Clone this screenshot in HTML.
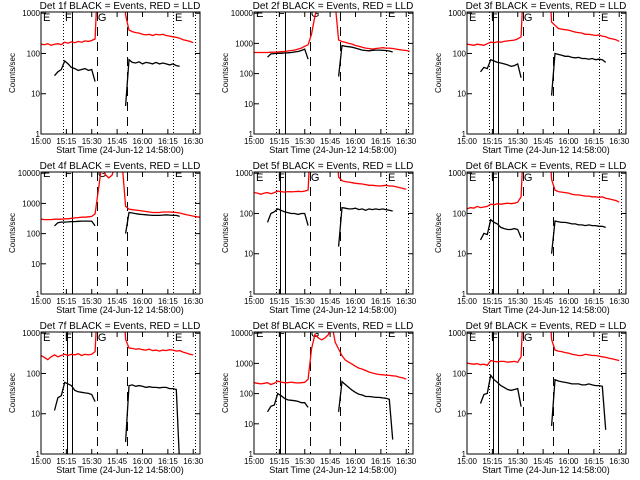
<!DOCTYPE html>
<html><head><meta charset="utf-8">
<style>
html,body{margin:0;padding:0;background:#fff;}
svg{display:block;font-family:"Liberation Sans",sans-serif;}
</style></head>
<body>
<svg id="chart" width="640" height="480" viewBox="0 0 640 480" xmlns="http://www.w3.org/2000/svg">
<rect x="0" y="0" width="640" height="480" fill="#fff"/>
</svg>
<script>
const N = null, H = 20000;
const timesMin = [0,2,4,6,8,10,12,14,16,18,20,22,24,26,28,30,32,34,36,38,40,42,44,46,48,50,52,54,56,58,60,62,64,66,68,70,72,74,76,78,80,82,84,86,88,90,92,94];
const detNames = ["1f","2f","3f","4f","5f","6f","7f","8f","9f"];
const yMaxDecades = [3.03,4.04,3.03,4.04,3.03,3.03,3.03,4.04,3.03];
const xTickLabels = ["15:00","15:15","15:30","15:45","16:00","16:15","16:30"];
const xTickMinutes = [0,15,30,45,60,75,90];
const eventLineTimes = [12.8,15.5,18.3,33.3,50.6,78.3,90.8];
const eventLineStyles = ["dot","solid","solid","dash","dash","dot","dot"];
const letterTimes = [1.2,14.2,33.6,79.2];
const letterText = ["E","F","G","E"];

const red1=[170,165,175,160,170,175,165,190,180,195,185,200,190,205,200,210,230,H,H,H,H,H,H,H,H,900,380,350,330,320,300,290,300,280,300,290,300,280,270,260,250,240,220,210,200,185,N,N];
const blk1=[N,N,N,N,28,35,40,65,55,45,42,38,40,42,38,40,20,N,N,N,N,N,N,N,N,5,70,60,58,62,55,60,58,55,60,55,58,55,52,55,50,48,N,N,N,N,N,N];
const red2=[500,500,500,500,500,510,510,520,530,540,560,580,600,650,700,800,900,2000,8000,H,H,H,H,H,H,1300,1150,1100,1000,950,850,800,750,700,680,650,680,700,720,700,700,680,650,620,600,580,550,N];
const blk2=[N,N,N,N,350,450,460,470,470,480,490,500,520,540,580,650,300,N,N,N,N,N,N,N,N,80,850,800,780,750,700,650,600,580,570,590,600,600,590,580,560,520,N,N,N,N,N,N];
const red3=[170,165,160,170,165,160,175,190,185,195,190,200,205,210,215,230,260,H,H,H,H,H,H,H,H,600,500,420,400,390,380,360,340,330,320,300,300,290,280,290,270,260,240,230,220,200,N,N];
const blk3=[N,N,N,N,35,45,42,70,65,60,58,55,52,48,50,55,25,N,N,N,N,N,N,N,N,9,100,95,90,85,85,80,78,80,75,75,72,75,70,72,70,60,N,N,N,N,N,N];
const red4=[300,290,290,290,300,300,300,310,310,320,330,340,350,350,360,370,450,3000,H,9000,7000,8500,H,H,H,800,650,620,600,580,560,540,520,500,500,500,520,520,520,510,500,480,450,420,400,380,360,350];
const blk4=[N,N,N,N,180,230,240,240,245,250,250,255,260,260,260,260,180,N,N,N,N,N,N,N,N,100,500,480,460,440,430,420,410,400,400,400,410,420,410,400,400,370,N,N,N,N,N,N];
const red5=[330,320,300,320,330,310,330,360,350,340,350,345,350,355,350,360,380,H,H,H,H,H,H,H,H,800,650,620,600,580,560,550,540,520,500,500,490,480,490,500,480,480,460,440,420,400,N,N];
const blk5=[N,N,N,N,60,100,110,130,120,110,105,100,100,95,100,100,50,N,N,N,N,N,N,N,N,15,140,135,130,130,135,125,130,120,130,125,130,125,130,125,120,115,N,N,N,N,N,N];
const red6=[130,140,135,150,140,145,150,170,165,175,170,175,180,175,180,190,260,H,H,H,H,H,H,H,H,700,380,350,340,330,320,300,290,290,280,270,270,260,260,250,260,240,230,220,210,190,N,N];
const blk6=[N,N,N,N,22,32,30,70,60,55,45,42,40,40,42,40,25,N,N,N,N,N,N,N,N,10,65,62,60,60,58,55,55,52,52,50,52,50,50,48,48,45,N,N,N,N,N,N];
const red7=[280,250,220,260,290,260,280,300,280,300,290,310,280,300,290,300,350,H,H,H,H,H,H,H,H,700,430,420,400,410,390,380,400,370,380,360,380,370,390,380,360,370,340,320,300,290,N,N];
const blk7=[N,N,N,N,12,25,28,60,55,50,38,35,34,33,32,30,20,N,N,N,N,N,N,N,N,2,50,52,48,50,48,45,47,45,45,44,45,45,42,42,40,0.5,N,N,N,N,N,N];
const red8=[230,220,210,220,230,200,220,260,240,230,230,240,230,225,230,235,300,3000,9000,7000,6000,7000,9000,H,5000,3000,1800,1300,1100,950,800,700,650,580,520,480,450,430,420,410,400,390,380,350,330,300,N,N];
const blk8=[N,N,N,N,25,38,42,100,85,70,62,60,58,55,50,50,35,N,N,N,N,N,N,N,N,25,250,200,160,130,110,95,90,80,80,78,75,75,72,70,65,3,N,N,N,N,N,N];
const red9=[180,175,170,175,165,170,160,210,200,195,200,200,190,195,200,190,260,H,H,H,H,H,H,H,H,700,380,360,350,330,320,300,290,280,280,300,290,280,280,270,260,250,240,230,220,210,N,N];
const blk9=[N,N,N,N,18,30,32,90,70,60,50,45,40,38,40,42,15,N,N,N,N,N,N,N,N,5,70,65,62,60,58,55,55,55,52,52,55,52,50,50,48,4,N,N,N,N,N,N];

const redSeries=[red1,red2,red3,red4,red5,red6,red7,red8,red9];
const blackSeries=[blk1,blk2,blk3,blk4,blk5,blk6,blk7,blk8,blk9];

const svg=document.getElementById('chart');
const NS="http://www.w3.org/2000/svg";
function mk(tag,attrs,parent){const e=document.createElementNS(NS,tag);for(const k in attrs)e.setAttribute(k,attrs[k]);(parent||svg).appendChild(e);return e;}

for(let p=0;p<9;p++){
  const col=p%3,row=Math.floor(p/3);
  const ox=[0,213,426][col], oy=row*160;
  const L=ox+41,R=ox+200,T=oy+12,B=oy+134;
  const yMax=yMaxDecades[p];
  const xs=t=>L+t*(R-L)/94;
  const ys=v=>B-Math.log10(Math.max(v,0.3))/yMax*(B-T);
  const g=mk('g',{});
  
  
  const cp=mk('clipPath',{id:'cp'+p},g);
  mk('rect',{x:L,y:T,width:R-L,height:B-T},cp);
  // title
  const title=mk('text',{x:ox+120,y:oy+9,'text-anchor':'middle','font-size':'10'},g);
  title.textContent='Det '+detNames[p]+' BLACK = Events, RED = LLD';
  
  
  // y label
  const yl=mk('text',{x:0,y:0,'text-anchor':'middle','font-size':'8',transform:'translate('+(ox+15)+','+(oy+73)+') rotate(-90)'},g);
  yl.textContent='Counts/sec';
  
  
  // x label
  const xl=mk('text',{x:ox+120,y:oy+153,'text-anchor':'middle','font-size':'9'},g);
  xl.textContent='Start Time (24-Jun-12 14:58:00)';
  
  
  // y ticks
  const nd=Math.floor(yMax);
  for(let d=0;d<=nd;d++){
    const y=ys(Math.pow(10,d));
    mk('line',{x1:L,y1:y,x2:L+5,y2:y,stroke:'#000','stroke-width':1},g);
    mk('line',{x1:R,y1:y,x2:R-5,y2:y,stroke:'#000','stroke-width':1},g);
    const tl=mk('text',{x:L-1,y:y+3,'text-anchor':'end','font-size':'8'},g);
    tl.textContent=String(Math.pow(10,d));
    
    
  }
  // x ticks
  for(let i=0;i<xTickMinutes.length;i++){
    const x=xs(xTickMinutes[i]);
    mk('line',{x1:x,y1:B,x2:x,y2:B-5,stroke:'#000'},g);
    mk('line',{x1:x,y1:T,x2:x,y2:T+5,stroke:'#000'},g);
    const tl=mk('text',{x:x,y:B+10,'text-anchor':'middle','font-size':'8'},g);
    tl.textContent=xTickLabels[i];
    
    
  }
  // event lines
  for(let i=0;i<eventLineTimes.length;i++){
    if(i===1 && (p===0||p===1||p===3)) continue;
    const x=Math.round(xs(eventLineTimes[i]))+0.5;
    const st=eventLineStyles[i];
    const ln=mk('line',{x1:x,y1:T,x2:x,y2:B,stroke:'#000','stroke-width':1,
      'stroke-dasharray':st==='dot'?'1,2':(st==='dash'?'9,6':'none')},g);
    
    
  }
  // letters
  const lb=yMax>4?oy+17:oy+21;
  for(let i=0;i<letterTimes.length;i++){
    const lt=mk('text',{x:xs(letterTimes[i]),y:lb,'font-size':'11','clip-path':'url(#cp'+p+')'},g);
    lt.textContent=letterText[i];
    
    
  }
  // series
  function drawSeries(vals,color,name){
    let d='',pen=false;
    for(let i=0;i<timesMin.length;i++){
      const v=vals[i];
      if(v===null){pen=false;continue;}
      d+=(pen?'L':'M')+xs(timesMin[i]).toFixed(1)+','+ys(v).toFixed(1);
      pen=true;
    }
    const pa=mk('path',{d:d,fill:'none',stroke:color,'stroke-width':1.3,'clip-path':'url(#cp'+p+')'},g);
    
    
  }
  drawSeries(redSeries[p],'#ff0000','lld-series-red');
  drawSeries(blackSeries[p],'#000000','events-series-black');
  // frame
  const fr=mk('rect',{x:L,y:T,width:R-L,height:B-T,fill:'none',stroke:'#000','stroke-width':1},g);
  
  
}
</script>
</body></html>
